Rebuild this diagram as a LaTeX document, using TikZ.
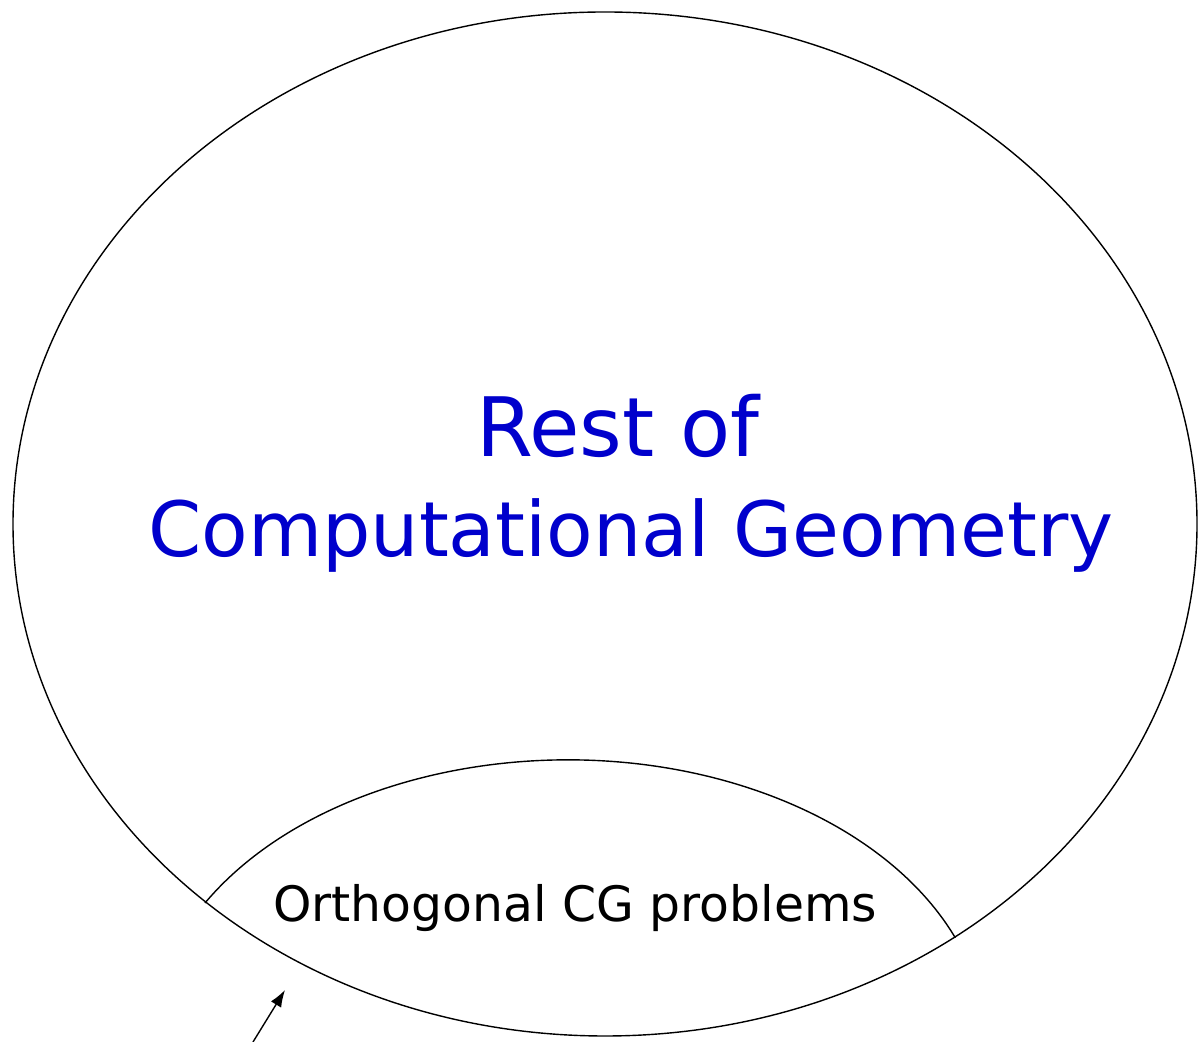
\documentclass[tikz,border=0pt]{standalone}
\usepackage{fontspec}
\setmainfont{DejaVu Sans}
\usetikzlibrary{arrows.meta}
\definecolor{titleblue}{RGB}{0,0,204}
\begin{document}
\begin{tikzpicture}[x=0.5pt,y=0.5pt,
  outline/.style={draw=black,line width=0.7pt},
  bigtext/.style={anchor=base,inner sep=0pt,text=titleblue},
  smalltext/.style={anchor=base,inner sep=0pt,text=black,font=\fontsize{24.4}{28}\selectfont},
  pointer/.style={draw=black,line width=0.7pt,-{Latex[length=8.5pt,width=6pt]}}]
\useasboundingbox (0,0) rectangle (1198,1042);
% outer ellipse
\coordinate (cgcenter) at (605,518);
\draw[outline] (cgcenter) ellipse[x radius=296pt,y radius=256pt];
% inner arc
\coordinate (arcleft) at (205,139);
\draw[outline] (arcleft) arc[start angle=150.2,end angle=22,x radius=209pt,y radius=142.25pt] coordinate (arcright);
% texts
\node[bigtext,font=\fontsize{41}{46}\selectfont] (rest) at (618,585) {Rest of};
\node[bigtext,font=\fontsize{38.1}{44}\selectfont] (cg) at (631,485) {Computational Geometry};
\node[smalltext] (ortho) at (575,120) {Orthogonal CG problems};
% arrow
\coordinate (arrowtail) at (253,0);
\coordinate (arrowtip) at (285,52);
\draw[pointer] (arrowtail) -- (arrowtip);
\end{tikzpicture}
\end{document}
